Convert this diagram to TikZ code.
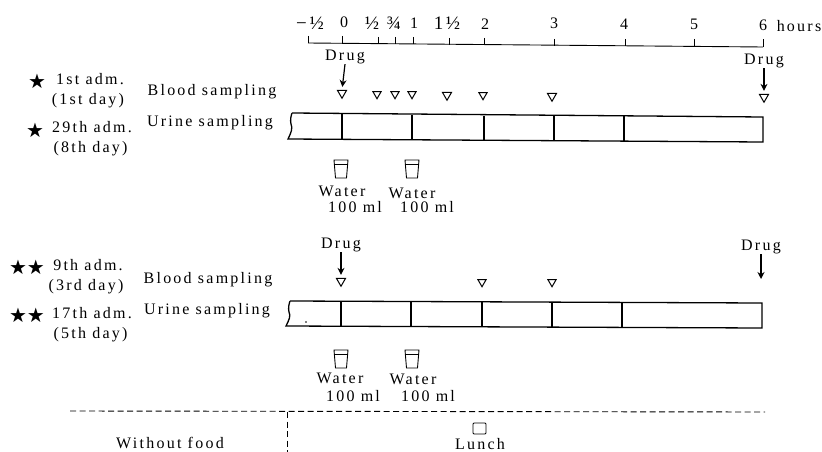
\documentclass[tikz,border=0pt]{standalone}
\usepackage{fontspec}
\setmainfont[LetterSpace=14]{Liberation Serif}
\newfontfamily\starfont{DejaVu Sans}
\usetikzlibrary{arrows.meta}
\usetikzlibrary{shapes.geometric,positioning}
\tikzset{
    sheetline/.style={line width=1.3pt,black},
    thinline/.style={line width=0.9pt,black},
    % kleine Dreiecke fuer die Blutproben
    samplemark/.style={
        regular polygon,
        regular polygon sides=3,
        shape border rotate=180,
        draw,
        line width=1pt,
        inner sep=0pt,
        minimum size=10.5pt
    },
    drugarrow/.style={
        line width=1.2pt,
        black,
        ->,
        shorten >=3pt,
        >={Stealth[length=7pt, width=7pt]}
    },
    txt/.style={font=\fontsize{16}{16}\selectfont,inner sep=0pt,black},
    admtxt/.style={font=\fontsize{16}{20}\selectfont,inner sep=0pt,black,align=center},
    hourtxt/.style={font=\fontsize{16}{16}\selectfont,inner sep=0pt,black},
    fractxt/.style={font=\fontsize{19}{19}\selectfont,inner sep=0pt,black},
    starmark/.style={font=\fontsize{20}{20}\starfont,inner sep=0pt,black}
}
\newcommand{\glassicon}[2]{
    \draw[thinline] (#1-7,#2-8) -- (#1+7,#2-8) -- (#1+5.5,#2+10) -- (#1-5.5,#2+10) -- cycle;
    \draw[thinline] (#1-6.6,#2-4) -- (#1+6.6,#2-4);
}
\begin{document}
\begin{tikzpicture}[x=1pt,y=-1pt]
    \useasboundingbox (0,0) rectangle (822,452);
    \path
    (308,43) coordinate (t1) (763,47) coordinate (t2);
    \draw[thinline] (t1) -- (t2);
    \draw[thinline] (308,36) -- (t1);
    \draw[thinline] (t2) -- (763,39);
    \foreach \px/\py in {342/43,378/44,395/44,413/44,449/45,484/45,554/46,625/46,694/46}
        \draw[thinline] (\px,\py-7) -- (\px,\py);

    \draw(310,23) node[fractxt] (h1) {−½};
    \draw(344,22) node[hourtxt] (h2) {0};
    \draw(372,23) node[fractxt] (h3) {½};
    \draw(394,23) node[fractxt] (h4) {¾};
    \draw(414,23) node[hourtxt] (h5) {1};
    \draw(447,23) node[fractxt] (h6) {1½};
    \draw(485,24) node[hourtxt] (h7) {2};
    \draw(554,23) node[hourtxt] (h8) {3};
    \draw(624,24) node[hourtxt] (h9) {4};
    \draw(694,24) node[hourtxt] (h10) {5};
    \draw(763,25) node[hourtxt] (h11) {6};
    \draw(799,26) node[hourtxt] (hrs) {hours};

    % upper panel
    \draw(37,81) node[starmark] (s1) {★};
    \draw(90,90.5) node[admtxt] (a1) {1st adm.\\(1st day)\hspace*{4pt}};
    \draw(35,130) node[starmark] (s2) {★};
    \draw(92,138.5) node[admtxt] (a2) {29th adm.\\(8th day)\hspace*{3pt}};
    \draw(212,92) node[txt] (b1) {Blood sampling};
    \draw(210,123) node[txt] (u1) {Urine sampling};

    \draw(345,57) node[txt] (d1) {Drug};
    \draw(764,61) node[txt] (d2) {Drug};
    \node[samplemark] (m1) at (342,93) {};
    \node[samplemark,minimum size=9.5pt] (m2) at (377,94) {};
    \node[samplemark,minimum size=9.5pt] (m3) at (395,94) {};
    \node[samplemark,minimum size=9.5pt] (m4) at (412,94) {};
    \node[samplemark] (m5) at (447,95) {};
    \node[samplemark,minimum size=9.5pt] (m6) at (483,95) {};
    \node[samplemark] (m7) at (552,96) {};
    \node[samplemark] (m8) at (764,97) {};
    \draw[drugarrow] (d1.south) -- (m1.north);
    \draw[drugarrow] (d2.south) -- (m8.north);

    \draw[sheetline] (292,113) -- (763,117) -- (763,142) -- (288,139)
        .. controls (291,133) and (293,128) .. (291,124)
        .. controls (290,120) and (291,116) .. (292,113);
    \foreach \px/\pa/\pb in {342/114/139,412/115/140,484/116/140,554/116/141,624/116/141}
        \draw[sheetline] (\px,\pa) -- (\px,\pb);

    \glassicon{341}{168}
    \glassicon{412}{168}
    \draw(342,191) node[txt] (w1) {Water};
    \draw(355,207) node[txt] (v1) {100 ml};
    \draw(412,193) node[txt] (w2) {Water};
    \draw(427,207) node[txt] (v2) {100 ml};

    % lower panel
    \draw(27,267) node[starmark] (s3) {★★};
    \draw(88,276.5) node[admtxt] (a3) {9th adm.\\(3rd day)\hspace*{4pt}};
    \draw(27,315) node[starmark] (s4) {★★};
    \draw(92,325) node[admtxt] (a4) {17th adm.\\(5th day)\hspace*{3pt}};
    \draw(208,280) node[txt] (b2) {Blood sampling};
    \draw(207,311) node[txt] (u2) {Urine sampling};

    \draw(341,245) node[txt] (d3) {Drug};
    \draw(761,247) node[txt] (d4) {Drug};
    \node[samplemark] (m9) at (341,281) {};
    \node[samplemark,minimum size=9.5pt] (m10) at (482,282) {};
    \node[samplemark,minimum size=9.5pt] (m11) at (552,282) {};
    \coordinate (m12) at (761,282);
    \draw[drugarrow] (d3.south) -- (m9.north);
    \draw[drugarrow] (d4.south) -- (m12);

    \draw[sheetline] (290,301) -- (762,303) -- (762,328) -- (286,326)
        .. controls (289,320) and (291,316) .. (289,312)
        .. controls (288,308) and (289,304) .. (290,301);
    \foreach \px/\pa/\pb in {341/302/326,411/302/327,482/302/327,552/303/327,622/303/328}
        \draw[sheetline] (\px,\pa) -- (\px,\pb);
    \fill (306,322) circle (0.8);

    \glassicon{341}{358}
    \glassicon{412}{358}
    \draw(340,378) node[txt] (w3) {Water};
    \draw(353,396) node[txt] (v3) {100 ml};
    \draw(413,379) node[txt] (w4) {Water};
    \draw(428,396) node[txt] (v4) {100 ml};

    % meal line
    \draw[thinline,dash pattern=on 6pt off 3.5pt] (70,411) -- (765,412);
    \draw[thinline,dash pattern=on 6pt off 3.5pt] (287,412) -- (287,452);
    \draw(170,443) node[txt] (f1) {Without food};
    \draw[thinline,rounded corners=1pt] (473,423) rectangle (486,434);
    \draw(480,444.5) node[txt] (l1) {Lunch};
\end{tikzpicture}
\end{document}
